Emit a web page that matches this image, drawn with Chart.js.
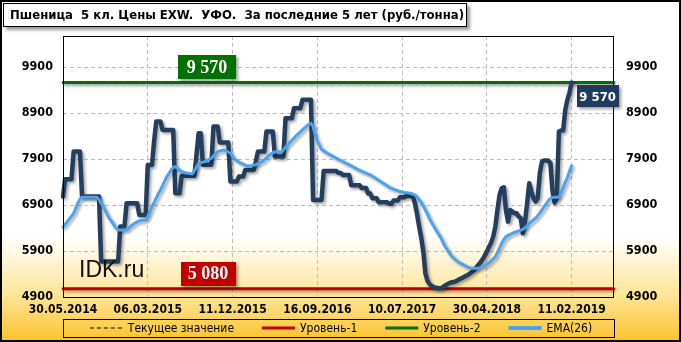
<!DOCTYPE html>
<html><head><meta charset="utf-8">
<script src="https://cdn.jsdelivr.net/npm/chart.js@4.4.1/dist/chart.umd.min.js"></script>
<style>
html,body{margin:0;padding:0;background:#fff;overflow:hidden}
#wrap{position:relative;width:681px;height:342px}
canvas{display:block}
#title{position:absolute;left:3px;top:3px;width:464px;height:24px;border:1px solid #000;background:#fff;box-shadow:3px 3px 3px rgba(0,0,0,0.4);font:bold 13px "DejaVu Sans Condensed","DejaVu Sans",sans-serif;line-height:22px;padding-left:6px;box-sizing:border-box;white-space:pre;color:#000}
</style></head>
<body>
<div id="wrap">
<canvas id="c" width="681" height="342"></canvas>
<div id="title">Пшеница  5 кл. Цены EXW.  УФО.  За последние 5 лет (руб./тонна)</div>
</div>
<script>
// ---- data ----
const tickDates = ['30.05.2014','06.03.2015','11.12.2015','16.09.2016','10.07.2017','30.04.2018','11.02.2019'];
const tickStep = 40;
const axisPoints = 261;
const yTicks = [4900, 5900, 6900, 7900, 8900, 9900];
const currentValue = 9570;
const level1 = 5080;
const level2 = 9570;
const seriesNames = ['Текущее значение', 'Уровень-1', 'Уровень-2', 'EMA(26)'];

const price = [
7085,7463,7463,7463,7463,8065,8065,8065,8065,7085,
7085,7085,7085,7085,7085,7085,7085,7085,5670,5670,
5670,5670,5670,5670,5670,5670,5670,6432,6432,6432,
6940,6940,6940,6940,6940,6940,6686,6686,6686,6686,
7775,7775,7775,8300,8718,8718,8718,8537,8537,8537,
8537,8537,8537,7158,7158,7158,7540,7540,7540,7540,
7540,7540,7540,8000,8464,8464,7780,7780,7780,7780,
7780,8610,8610,8610,8261,8261,8261,8261,8261,7412,
7412,7412,7412,7521,7521,7521,7666,7666,7666,7666,
7666,7850,8065,8065,8065,8065,8500,8500,8500,8500,
7956,7956,7956,7956,7956,8791,8791,8791,8791,9009,
9009,9009,9009,9190,9190,9190,9190,9190,7012,7012,
7012,7012,7012,7640,7640,7640,7640,7640,7640,7640,
7600,7600,7557,7557,7557,7557,7330,7330,7330,7330,
7330,7270,7270,7270,7150,7150,7050,7050,7050,6960,
6960,6960,6960,6960,6930,6930,7000,7000,7000,7070,
7070,7070,7100,7100,7100,7100,6950,6722,6450,6200,
5900,5415,5250,5180,5140,5115,5100,5090,5090,5100,
5140,5170,5197,5215,5225,5234,5260,5285,5306,5330,
5355,5379,5410,5445,5488,5540,5600,5650,5720,5800,
5887,5990,6080,6214,6432,6800,7121,7267,7288,6795,
6540,6795,6758,6722,6722,6650,6613,6286,6540,6940,
7375,7194,7049,6976,7049,7600,7847,7869,7869,7869,
7811,7200,6954,7049,8501,8522,8522,8973,9190,9350,
9570
];

const ema26 = [
6420,6480,6540,6600,6660,6722,6830,6940,7030,7071,
7071,7071,7071,7071,7071,7071,7071,7020,6940,6867,
6780,6680,6600,6540,6470,6400,6359,6359,6359,6359,
6359,6400,6440,6480,6510,6540,6555,6565,6570,6577,
6650,6760,6867,6960,7060,7150,7230,7330,7430,7521,
7590,7660,7720,7738,7700,7660,7629,7610,7600,7593,
7585,7579,7650,7730,7811,7825,7835,7847,7870,7895,
7920,7970,8020,8065,8080,8090,8101,8080,8050,8029,
7960,7898,7870,7840,7811,7790,7770,7755,7753,7760,
7770,7780,7800,7830,7847,7890,7930,7970,8010,8040,
8055,8065,8055,8045,8100,8160,8210,8260,8310,8360,
8410,8450,8495,8540,8580,8620,8660,8682,8610,8420,
8300,8200,8110,8080,8050,8020,7995,7970,7945,7920,
7895,7875,7850,7825,7800,7780,7755,7730,7705,7680,
7655,7635,7615,7595,7575,7557,7530,7500,7470,7440,
7410,7380,7350,7320,7285,7265,7245,7230,7215,7195,
7185,7175,7168,7162,7158,7140,7121,7080,7020,6960,
6880,6790,6700,6600,6510,6440,6360,6280,6214,6120,
6020,5950,5880,5810,5760,5720,5680,5650,5625,5600,
5575,5550,5535,5528,5524,5524,5530,5540,5555,5580,
5610,5640,5690,5730,5778,5870,5970,6068,6150,6214,
6240,6265,6286,6305,6320,6340,6355,6373,6410,6450,
6500,6540,6580,6613,6670,6730,6795,6860,6930,7000,
7040,7065,7071,7071,7071,7160,7280,7400,7500,7640,
7753
];

// ---- derived tables for the library ----
const categories = Array.from({length: axisPoints}, (_, i) =>
  (i % tickStep === 0 && tickDates[i / tickStep]) ? tickDates[i / tickStep] : '');
const constLine = v => categories.map(() => v);

const fmt = n => String(n).replace(/\B(?=(\d{3})+(?!\d))/g, ' ');
const NAVY = '#243e5f', BLUE = '#4aa3f0', RED = '#c00000', GREEN = '#007000';
const AXFONT = '"DejaVu Sans Condensed","DejaVu Sans",sans-serif';

const decor = {
  id: 'decor',
  beforeDraw(chart) {
    const {ctx, width, height} = chart;
    ctx.save();
    const g = ctx.createLinearGradient(0, 0, 0, height);
    g.addColorStop(0, '#ffffff');
    g.addColorStop(0.69, '#ffffff');
    g.addColorStop(0.86, '#ffe699');
    g.addColorStop(1, '#fcc22c');
    ctx.fillStyle = g;
    ctx.fillRect(0, 0, width, height);
    ctx.restore();
  },
  beforeDatasetDraw(chart) {
    const ctx = chart.ctx;
    ctx.save();
    ctx.shadowColor = 'rgba(0,0,0,0.35)';
    ctx.shadowOffsetX = 2;
    ctx.shadowOffsetY = 2;
    ctx.shadowBlur = 3;
  },
  afterDatasetDraw(chart) { chart.ctx.restore(); },
  afterDraw(chart) {
    const {ctx, chartArea: a, scales} = chart;
    const x = scales.x, y = scales.y;
    ctx.save();
    // plot border
    ctx.strokeStyle = '#000'; ctx.lineWidth = 1;
    ctx.strokeRect(Math.round(a.left) + 0.5, Math.round(a.top) + 0.5, Math.round(a.right - a.left) - 1, Math.round(a.bottom - a.top));
    // watermark
    ctx.fillStyle = '#111';
    ctx.font = '23px "Liberation Sans", Arial, sans-serif';
    ctx.textAlign = 'left'; ctx.textBaseline = 'alphabetic';
    ctx.fillText('IDK.ru', a.left + 16, a.bottom - 20);
    // level tags
    const tag = (text, cx, top, w, h, bg, font) => {
      ctx.save();
      ctx.shadowColor = 'rgba(0,0,0,0.4)'; ctx.shadowOffsetX = 2; ctx.shadowOffsetY = 2; ctx.shadowBlur = 3;
      ctx.fillStyle = bg;
      ctx.fillRect(Math.round(cx - w / 2), Math.round(top), w, h);
      ctx.restore();
      ctx.fillStyle = '#fff'; ctx.font = font;
      ctx.textAlign = 'center'; ctx.textBaseline = 'middle';
      ctx.fillText(text, cx, top + h / 2 + 1);
    };
    const cxTag = x.getPixelForValue(68);
    const serif = 'bold 18px "Liberation Serif","Times New Roman",serif';
    tag(fmt(level2), cxTag, y.getPixelForValue(level2) - 27, 58, 24, GREEN, serif);
    tag(fmt(level1), cxTag + 1, y.getPixelForValue(level1) - 27, 55, 24, RED, serif);
    const lastX = x.getPixelForValue(price.length - 1);
    tag(fmt(currentValue), lastX + 5 + 21, y.getPixelForValue(currentValue) + 3, 42, 22, '#1f3a5f', 'bold 13px ' + AXFONT);
    // legend
    const lx0 = a.left, lx1 = a.right, ly0 = 319, ly1 = 337, lyc = (ly0 + ly1) / 2;
    ctx.strokeStyle = '#000'; ctx.lineWidth = 1;
    ctx.strokeRect(Math.round(lx0) + 0.5, ly0 + 0.5, Math.round(lx1 - lx0), ly1 - ly0);
    ctx.font = '12px ' + AXFONT;
    const sw = 33, gap = 5, itemGap = 28;
    const items = chart.data.datasets.filter(d => seriesNames.includes(d.label))
      .sort((p, q) => seriesNames.indexOf(p.label) - seriesNames.indexOf(q.label));
    let total = 0;
    items.forEach((d, i) => { total += sw + gap + ctx.measureText(d.label).width + (i ? itemGap : 0); });
    let cx = 341 - total / 2;
    items.forEach(d => {
      ctx.save();
      ctx.strokeStyle = d.borderColor;
      ctx.lineWidth = d.legendWidth;
      ctx.setLineDash(d.borderDash || []);
      ctx.beginPath(); ctx.moveTo(cx, lyc); ctx.lineTo(cx + sw, lyc); ctx.stroke();
      ctx.restore();
      ctx.fillStyle = '#000'; ctx.textAlign = 'left'; ctx.textBaseline = 'middle';
      ctx.fillText(d.label, cx + sw + gap, lyc + 1);
      cx += sw + gap + ctx.measureText(d.label).width + itemGap;
    });
    // outer border
    ctx.strokeStyle = '#000'; ctx.lineWidth = 2;
    ctx.strokeRect(1, 1, chart.width - 2, chart.height - 2);
    ctx.restore();
  }
};

const tickFont = {family: AXFONT, size: 12.5, weight: 'bold'};
const plainNum = v => String(v);

new Chart(document.getElementById('c'), {
  type: 'line',
  data: {
    labels: categories,
    datasets: [
      {label: 'EMA(26)', data: ema26, borderColor: BLUE, borderWidth: 3, legendWidth: 4, order: 0},
      {label: 'Пшеница 5 кл.', data: price, borderColor: NAVY, borderWidth: 4.5, order: 1},
      {label: 'Уровень-2', data: constLine(level2), borderColor: GREEN, borderWidth: 3, legendWidth: 3, order: 2},
      {label: 'Уровень-1', data: constLine(level1), borderColor: RED, borderWidth: 3, legendWidth: 3, order: 2},
      {label: 'Текущее значение', data: constLine(currentValue), borderColor: '#000', borderWidth: 1, legendWidth: 1, borderDash: [4, 3], order: 3}
    ]
  },
  options: {
    responsive: false,
    animation: false,
    devicePixelRatio: 1,
    layout: {padding: {top: 36, left: 0, right: 0, bottom: 0}},
    elements: {
      point: {radius: 0, hoverRadius: 0},
      line: {tension: 0, borderJoinStyle: 'round', borderCapStyle: 'round', fill: false}
    },
    plugins: {legend: {display: false}, tooltip: {enabled: false}, title: {display: false}},
    scales: {
      x: {
        type: 'category',
        offset: false,
        afterBuildTicks: s => { s.ticks = s.ticks.filter(t => t.value % tickStep === 0 && categories[t.value]); },
        afterFit: s => { s.height = 45; },
        grid: {color: '#bdbdbd', lineWidth: 1, drawTicks: false},
        border: {display: false, dash: [4, 3]},
        ticks: {autoSkip: false, maxRotation: 0, minRotation: 0, padding: 6, color: '#000', font: {family: AXFONT, size: 12, weight: 'bold'}}
      },
      y: {
        position: 'left',
        min: 4900, max: 10580,
        afterBuildTicks: s => { s.ticks = yTicks.map(v => ({value: v})); },
        afterFit: s => { s.width = 63; },
        grid: {color: '#bdbdbd', lineWidth: 1, drawTicks: false},
        border: {display: false, dash: [4, 3]},
        ticks: {padding: 10, color: '#000', font: tickFont, callback: plainNum}
      },
      y2: {
        position: 'right',
        min: 4900, max: 10580,
        afterBuildTicks: s => { s.ticks = yTicks.map(v => ({value: v})); },
        afterFit: s => { s.width = 67; },
        grid: {display: false, drawTicks: false},
        border: {display: false},
        ticks: {padding: 12, color: '#000', font: tickFont, callback: plainNum}
      }
    }
  },
  plugins: [decor]
});
</script>
</body></html>
